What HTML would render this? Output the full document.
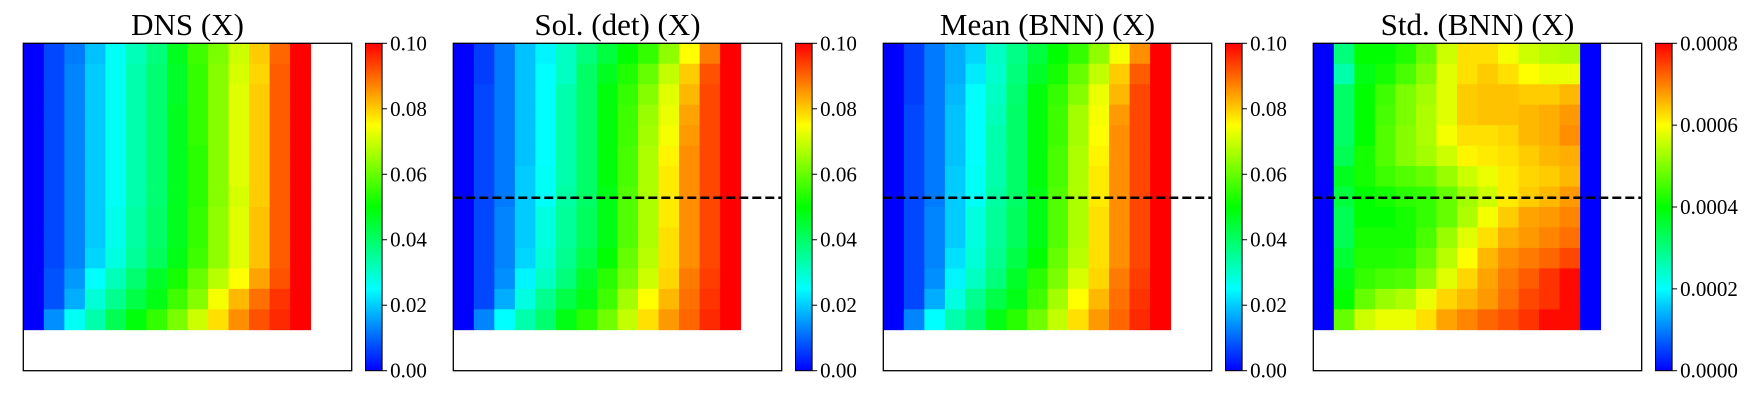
<!DOCTYPE html>
<html><head><meta charset="utf-8"><style>
html,body{margin:0;padding:0;background:#fff;width:1760px;height:400px;overflow:hidden}
svg{display:block}
text{font-family:"Liberation Serif",serif;fill:#000}
</style></head><body>
<svg id="fig" width="1760" height="400" xmlns="http://www.w3.org/2000/svg"></svg>
<script>
const titles = ["DNS (X)", "Sol. (det) (X)", "Mean (BNN) (X)", "Std. (BNN) (X)"];
const vmaxs = [0.1, 0.1, 0.1, 0.0008];
const tickLabels = [["0.00","0.02","0.04","0.06","0.08","0.10"],["0.00","0.02","0.04","0.06","0.08","0.10"],["0.00","0.02","0.04","0.06","0.08","0.10"],["0.0000","0.0002","0.0004","0.0006","0.0008"]];
const showDash = [false, true, true, true];
// values in percent of vmax, 14 rows x 14 cols
const dnsData = [
[0,7,12,19,26,32,38,47,56,62,70,80,90,100],
[0,7,13,20,26,33,39,46,55,63,71,79,91,100],
[0,7,13,20,26,33,39,46,55,63,72,80,91,100],
[0,7,13,20,26,33,39,47,55,63,72,80,91,100],
[0,7,13,20,26,33,39,47,55,63,72,80,91,100],
[0,7,13,20,26,33,39,47,54,63,72,80,91,100],
[0,7,13,20,26,33,39,47,54,63,72,80,91,100],
[0,7,13,20,26,33,39,47,54,63,71,80,91,100],
[0,7,13,20,27,34,40,47,55,64,72,81,91,100],
[0,7,13,20,27,34,40,47,55,64,72,81,91,100],
[0,7,13,21,28,35,41,48,56,64,72,81,91,100],
[0,8,15,25,32,39,46,52,60,68,75,84,92,100],
[0,8,17,29,36,43,48,56,63,74,82,89,95,100],
[0,14,26,33,42,49,55,62,70,78,86,92,96,100]];
const solData = [
[0,6,12,19,24,31,38,44,50,55,64,75,88,100],
[0,6,12,19,25,31,40,47,53,60,69,80,92,100],
[0,7,12,19,25,33,40,49,55,63,72,82,93,100],
[0,7,12,19,25,33,40,49,56,65,73,84,93,100],
[0,7,12,19,25,33,40,49,56,66,74,85,93,100],
[0,7,12,19,25,33,40,49,57,67,76,86,93,100],
[0,7,12,20,26,33,40,49,57,67,77,86,93,100],
[0,7,12,20,26,34,40,48,58,67,77,86,93,100],
[0,7,13,20,28,35,41,48,58,67,77,86,93,100],
[0,7,13,20,28,35,41,48,58,67,78,86,93,100],
[0,7,13,21,29,36,43,50,60,68,78,86,93,100],
[0,7,14,24,31,38,46,54,62,70,79,88,94,100],
[0,7,17,28,36,43,48,56,66,75,82,89,95,100],
[0,13,25,33,39,48,54,61,69,78,85,90,96,100]];
const meanData = [
[0,6,12,17,21,31,37,44,50,55,64,74,86,100],
[0,6,12,17,23,30,38,46,52,60,69,80,91,100],
[0,6,12,18,25,31,39,49,55,63,73,82,93,100],
[0,7,12,19,25,32,40,49,56,66,74,85,93,100],
[0,7,12,19,25,33,40,49,56,66,75,86,93,100],
[0,7,12,19,25,33,40,49,57,67,76,86,93,100],
[0,7,12,20,26,33,40,49,57,67,77,86,93,100],
[0,7,12,20,26,34,40,48,58,67,77,86,93,100],
[0,7,13,20,28,35,41,48,58,67,78,86,93,100],
[0,7,13,20,28,35,41,48,58,67,78,86,93,100],
[0,7,13,22,29,36,43,50,60,68,78,86,93,100],
[0,7,14,24,31,38,46,54,62,71,79,88,94,100],
[0,7,17,28,36,43,48,56,66,75,82,89,95,100],
[0,13,25,33,39,48,54,61,69,78,85,90,96,100]];
const stdData = [
[0,38,50,50,53,60,70,78,78,74,70,68,67,0],
[0,33,48,52,57,63,72,78,80,78,75,73,73,0],
[0,40,50,56,62,66,72,80,81,81,80,80,82,0],
[0,40,50,57,62,67,72,80,81,81,82,83,85,0],
[0,40,50,58,63,67,74,78,78,79,82,83,86,0],
[0,42,52,58,63,66,70,76,77,78,80,82,83,0],
[0,47,52,56,58,60,65,70,73,77,79,80,82,0],
[0,44,50,52,54,55,60,66,70,77,80,82,85,0],
[0,42,50,50,52,55,60,67,74,80,84,85,87,0],
[0,42,52,52,52,57,65,72,78,83,85,87,89,0],
[0,45,53,53,54,60,68,75,82,86,88,90,93,0],
[0,48,55,57,58,64,72,79,84,88,91,95,99,0],
[0,50,60,65,67,73,79,82,85,89,93,95,99,0],
[0,60,70,73,73,78,84,87,90,92,95,99,99,0]];
const panelData = [dnsData, solData, meanData, stdData];
const dashRow = 7.55;

const NS = "http://www.w3.org/2000/svg";
const svg = document.getElementById("fig");
function mk(tag, attrs, parent){const e=document.createElementNS(NS,tag);for(const k in attrs)e.setAttribute(k,attrs[k]);(parent||svg).appendChild(e);return e;}
function cmap(p){
  p=Math.max(0,Math.min(1,p));
  const s=[[0,0,255],[0,255,255],[0,255,0],[255,255,0],[255,0,0]];
  const t=p*4, i=Math.min(3,Math.floor(t)), f=t-i;
  const c=s[i].map((v,k)=>Math.round(v+(s[i+1][k]-v)*f));
  return `rgb(${c[0]},${c[1]},${c[2]})`;
}
const boxY=43.3, boxH=327.4, boxW=328.4, N=16;
const cw=boxW/N, ch=boxH/N;
function xScale(ox,col){return ox+col*cw;}
function yScale(row){return boxY+row*ch;}

// gradient
const defs=mk("defs",{});
const lg=mk("linearGradient",{id:"cbg",x1:0,y1:1,x2:0,y2:0},defs);
[["0%","#0000ff"],["25%","#00ffff"],["50%","#00ff00"],["75%","#ffff00"],["100%","#ff0000"]].forEach(s=>mk("stop",{offset:s[0],"stop-color":s[1]},lg));

for(let p=0;p<4;p++){
  const ox=23.3+p*430;
  const g=mk("g",{});
  
  
  const t=mk("text",{x:ox+boxW/2,y:35,"text-anchor":"middle","font-size":31},g);
  t.textContent=titles[p];
  
  
  const hm=mk("g",{},g);
  
  
  const d=panelData[p];
  for(let r=0;r<d.length;r++){
    for(let c=0;c<d[r].length;c++){
      const x0=xScale(ox,c), y0=yScale(r);
      const rc=mk("rect",{x:x0,y:y0,width:xScale(ox,c+1)-x0+0.4,height:yScale(r+1)-y0+0.4,fill:cmap(d[r][c]/100)},hm);
      
      
    }
  }
  if(showDash[p]){
    const l=mk("line",{x1:ox,x2:ox+boxW,y1:yScale(dashRow),y2:yScale(dashRow),stroke:"#000","stroke-width":2.5,"stroke-dasharray":"9,4"},g);
    
    
  }
  const fr=mk("rect",{x:ox,y:boxY,width:boxW,height:boxH,fill:"none",stroke:"#000","stroke-width":1.3},g);
  
  
  // colorbar
  const cx=ox+342.2, cwid=16.6;
  const cb=mk("rect",{x:cx,y:boxY,width:cwid,height:boxH,fill:"url(#cbg)",stroke:"#000","stroke-width":1},g);
  
  
  const tl=tickLabels[p], n=tl.length;
  for(let i=0;i<n;i++){
    const y=boxY+boxH-(i/(n-1))*boxH;
    mk("line",{x1:cx+cwid,x2:cx+cwid+5,y1:y,y2:y,stroke:"#000","stroke-width":1},g);
    const tt=mk("text",{x:cx+cwid+8,y:y+7,"font-size":21},g);
    tt.textContent=tl[i];
    
    
  }
}
</script>
</body></html>
